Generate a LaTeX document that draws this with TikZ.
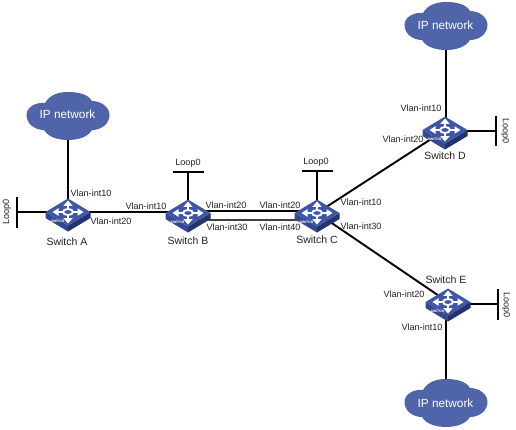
\documentclass[tikz,border=0pt]{standalone}
\usepackage{fontspec}
\setmainfont{Liberation Sans}
\definecolor{swtop}{HTML}{3F56A6}
\definecolor{swleft}{HTML}{34488F}
\definecolor{swright}{HTML}{24336F}
\definecolor{cloudblue}{HTML}{4F64A9}
\definecolor{labelgray}{HTML}{222222}
\tikzset{
  lbl/.style={font=\fontsize{9.1}{10}\selectfont,text=labelgray,inner sep=0pt},
  swname/.style={font=\fontsize{10.5}{12}\selectfont,text=labelgray,inner sep=0pt},
  cloudlbl/.style={font=\fontsize{11.8}{13}\selectfont,text=white,inner sep=0pt},
  anchorpt/.style={inner sep=0pt,minimum size=0pt},
  link/.style={line width=1.9pt,black},
  linkthin/.style={line width=1.5pt,black!75},
  switchicon/.pic={
    \fill[swleft] (-22.5,0) -- (0,13.5) -- (0,19.5) -- (-22.5,6) -- cycle;
    \fill[swright] (22.5,0) -- (0,13.5) -- (0,19.5) -- (22.5,6) -- cycle;
    \fill[swtop] (-22.5,0) -- (0,-13.5) -- (22.5,0) -- (0,13.5) -- cycle;
    \draw[white,line width=1.9pt] (0,0) ellipse (5 and 3);
    \draw[white,line width=2.1pt] (0,-3.2) -- (0,-7) (0,3.2) -- (0,7) (-5,0) -- (-10,0) (5,0) -- (10,0);
    \fill[white] (0,-11.5) -- (4.6,-6.2) -- (-4.6,-6.2) -- cycle;
    \fill[white] (0,11.5) -- (4.6,6.2) -- (-4.6,6.2) -- cycle;
    \fill[white] (-15.5,0) -- (-9.5,-3.8) -- (-9.5,3.8) -- cycle;
    \fill[white] (15.5,0) -- (9.5,-3.8) -- (9.5,3.8) -- cycle;
    \begin{scope}[shift={(-10.5,9.8)}]
      \pgftransformcm{0.86}{-0.52}{0}{1}{\pgfpointorigin}
      \node[inner sep=0pt,text=white,font=\fontsize{3.4}{4}\bfseries\selectfont] at (0,0) {SWITCH};
    \end{scope}
  },
  cloudicon/.pic={
    \fill[cloudblue] (-41.5,-1)
      .. controls (-41.5,-9) and (-32,-14) .. (-23,-13)
      .. controls (-18,-22) and (-8,-24) .. (0,-24)
      .. controls (10,-24) and (20,-22) .. (24,-15)
      .. controls (33,-15) and (41.5,-9) .. (41.5,-1)
      .. controls (41.5,8) and (33,14) .. (24,14)
      .. controls (20,21) and (10,24) .. (0,24)
      .. controls (-10,24) and (-20,21) .. (-24,14)
      .. controls (-33,14) and (-41.5,8) .. (-41.5,-1) -- cycle;
  }
}
\begin{document}
\begin{tikzpicture}[x=1pt,y=-1pt]
\useasboundingbox (0,0) rectangle (516,429);
% anchors of the devices
\node[anchorpt] (A) at (68,212) {};
\node[anchorpt] (B) at (188,213) {};
\node[anchorpt] (C) at (317,213) {};
\node[anchorpt] (D) at (445,130) {};
\node[anchorpt] (E) at (448,302) {};
\node[anchorpt] (ca) at (68,116) {};
\node[anchorpt] (cd) at (446,26) {};
\node[anchorpt] (ce) at (446,403) {};
% loop bars
\node[anchorpt] (la) at (17,212) {};
\node[anchorpt] (lb) at (188,172) {};
\node[anchorpt] (lc) at (317,171) {};
\node[anchorpt] (ld) at (496,131) {};
\node[anchorpt] (le) at (498,304) {};
\draw[link] ([yshift=15.5pt]la.center) -- ([yshift=-15.5pt]la.center);
\draw[link] ([xshift=-15.5pt]lb.center) -- ([xshift=15.5pt]lb.center);
\draw[link] ([xshift=-15.5pt]lc.center) -- ([xshift=15.5pt]lc.center);
\draw[link] ([yshift=15pt]ld.center) -- ([yshift=-15pt]ld.center);
\draw[link] ([yshift=15.5pt]le.center) -- ([yshift=-15.5pt]le.center);
% connectors
\draw[link] (la.center) -- (A.center);
\draw[link] (lb.center) -- (B.center);
\draw[link] (lc.center) -- (C.center);
\draw[link] (ld.center) -- (D.center |- ld.center);
\draw[link] (le.center) -- (E.center |- le.center);
\draw[link] (ca.center) -- (ca.center |- A.center);
\draw[link] (cd.center) -- (cd.center |- D.center);
\draw[link] (ce.center) -- (ce.center |- E.center);
\draw[link] (A.center) -- (A.center -| B.center);
\draw[link] ([yshift=2pt]B.center) -- ([yshift=2pt]C.center);
\draw[linkthin] ([yshift=-7pt]B.center) -- ([yshift=-7pt]C.center);
\draw[link] (C.center) -- (D.center);
\draw[link] (C.center) -- (E.center);
% icons
\pic at (A) {switchicon};
\pic at (B) {switchicon};
\pic at (C) {switchicon};
\pic at (D) {switchicon};
\pic at (E) {switchicon};
\pic at (ca) {cloudicon};
\pic at (cd) {cloudicon};
\pic at (ce) {cloudicon};
% cloud labels
\node[cloudlbl] (ta) at (67.5,114) {IP network};
\node[cloudlbl] (td) at (445.5,25) {IP network};
\node[cloudlbl] (te) at (445.5,403) {IP network};
% switch names
\node[swname] (na) at (67,242) {Switch A};
\node[swname] (nb) at (188,241) {Switch B};
\node[swname] (nc) at (317,240) {Switch C};
\node[swname] (nd) at (445,156) {Switch D};
\node[swname] (ne) at (446,280) {Switch E};
% loop labels
\node[lbl,rotate=90] (pa) at (7,212) {Loop0};
\node[lbl] (pb) at (188,163) {Loop0};
\node[lbl] (pc) at (316,162) {Loop0};
\node[lbl,rotate=-90] (pd) at (505,131) {Loop0};
\node[lbl,rotate=-90] (pe) at (506,305) {Loop0};
% interface labels
\node[lbl] (i1) at (91,193) {Vlan-int10};
\node[lbl] (i2) at (111,221) {Vlan-int20};
\node[lbl] (i3) at (146,206) {Vlan-int10};
\node[lbl] (i4) at (226,205) {Vlan-int20};
\node[lbl] (i5) at (227,227) {Vlan-int30};
\node[lbl] (i6) at (280,205) {Vlan-int20};
\node[lbl] (i7) at (280,227) {Vlan-int40};
\node[lbl] (i8) at (361,202) {Vlan-int10};
\node[lbl] (i9) at (361,226) {Vlan-int30};
\node[lbl] (i10) at (421,108) {Vlan-int10};
\node[lbl] (i11) at (403,139) {Vlan-int20};
\node[lbl] (i12) at (404,294) {Vlan-int20};
\node[lbl] (i13) at (422,327) {Vlan-int10};
\end{tikzpicture}
\end{document}
